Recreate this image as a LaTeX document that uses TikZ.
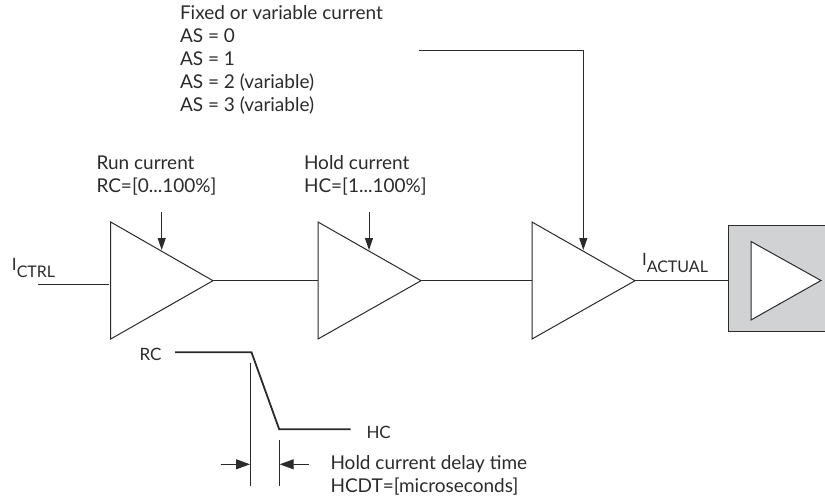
\documentclass[tikz,border=0pt]{standalone}
\usepackage{fontspec}
\setmainfont{Lato}
\usetikzlibrary{arrows.meta}
\definecolor{ink}{HTML}{2B2B2B}
\definecolor{boxgray}{HTML}{D1D2D4}
\tikzset{
  wire/.style={draw=ink,line width=1pt},
  amp/.style={draw=ink,line width=1pt,line join=miter,fill=white},
  ctl/.style={wire,-{Triangle[length=12pt,width=8pt]}},
  curve/.style={draw=ink,line width=1.8pt,line join=miter},
  dim/.style={wire,-{Triangle[length=14pt,width=10pt]}},
  lab/.style={inner sep=0pt,outer sep=0pt,text=ink,font=\fontsize{19}{23}\selectfont,align=left,anchor=north west},
  sub/.style={inner sep=0pt,outer sep=0pt,text=ink,font=\fontsize{17}{20}\selectfont,anchor=base west},
}
\newcommand{\Sb}[1]{\raisebox{-7pt}{\fontsize{16}{18}\selectfont #1}}
\begin{document}
\begin{tikzpicture}[x=1pt,y=-1pt]
\useasboundingbox (0,0) rectangle (825,496);
% box
\node[draw=ink,fill=boxgray,line width=1pt,minimum width=100pt,minimum height=105.7pt,inner sep=0pt,anchor=north west] (load) at (728.3,225) {};
\coordinate (a1t) at (110.7,222);
\coordinate (a1b) at (110.7,339);
\coordinate (a1o) at (213,280.7);
\coordinate (a2t) at (318,222);
\coordinate (a2b) at (318,339);
\coordinate (a2o) at (421,280.7);
\coordinate (a2i) at (318,280.7);
\coordinate (a3t) at (532,222);
\coordinate (a3b) at (532,339);
\coordinate (a3o) at (635,280.7);
\coordinate (a3i) at (532,280.7);
\coordinate (loadin) at (load.west |- a3o);
\draw[amp] (a1t) -- (a1o) -- (a1b) -- cycle;
\draw[amp] (a2t) -- (a2o) -- (a2b) -- cycle;
\draw[amp] (a3t) -- (a3o) -- (a3b) -- cycle;
\coordinate (a4t) at (751,241.5);
\coordinate (a4b) at (751,320);
\coordinate (a4o) at (821,280.5);
\draw[amp] (a4t) -- (a4o) -- (a4b) -- cycle;
% wires
\coordinate (in) at (38,284.7);
\coordinate (ine) at (108.5,284.7);
\draw[wire] (in) -- (ine);
\draw[wire] (a1o) -- (a2i);
\draw[wire] (a2o) -- (a3i);
\draw[wire] (a3o) -- (loadin);
% control arrows
\coordinate (c1s) at (161.7,211.5);
\coordinate (c1e) at (161.7,250);
\coordinate (c2s) at (369,211.5);
\coordinate (c2e) at (369,250);
\coordinate (c3s) at (419,50.7);
\coordinate (c3c) at (583.3,50.7);
\coordinate (c3e) at (583.3,250);
\draw[ctl] (c1s) -- (c1e);
\draw[ctl] (c2s) -- (c2e);
\draw[ctl] (c3s) -- (c3c) -- (c3e);
% timing curve
\coordinate (r1) at (175,352.3);
\coordinate (r2) at (251.5,352.3);
\coordinate (r3) at (279.2,429.3);
\coordinate (r4) at (350.7,429.3);
\draw[curve] (r1) -- (r2) -- (r3) -- (r4);
\coordinate (d1t) at (250,363);
\coordinate (d1b) at (250,486);
\coordinate (d2t) at (279.7,440);
\coordinate (d2b) at (279.7,486);
\draw[wire] (d1t) -- (d1b);
\draw[wire] (d2t) -- (d2b);
\coordinate (d1s) at (220.7,464.3);
\coordinate (d1e) at (250,464.3);
\coordinate (d2s) at (309,464.3);
\coordinate (d2e) at (279.7,464.3);
\draw[dim] (d1s) -- (d1e);
\draw[dim] (d2s) -- (d2e);
% labels
\node[lab] (t1) at (180,6) {Fixed or variable current\\AS = 0\\AS = 1\\AS = 2 (variable)\\AS = 3 (variable)};
\node[lab] (t2) at (96.5,156) {Run current\\RC=[0...100\%]};
\node[lab] (t3) at (304,156) {Hold current\\HC=[1...100\%]};
\node[sub] (t4) at (12,270) {I\Sb{CTRL}};
\node[sub] (t5) at (642,265) {I\Sb{ACTUAL}};
\node[sub] (t6) at (139.5,360) {RC};
\node[sub] (t7) at (366.5,438) {HC};
\node[lab] (t8) at (330.5,455) {Hold current delay time\\HCDT=[microseconds]};
\end{tikzpicture}
\end{document}
